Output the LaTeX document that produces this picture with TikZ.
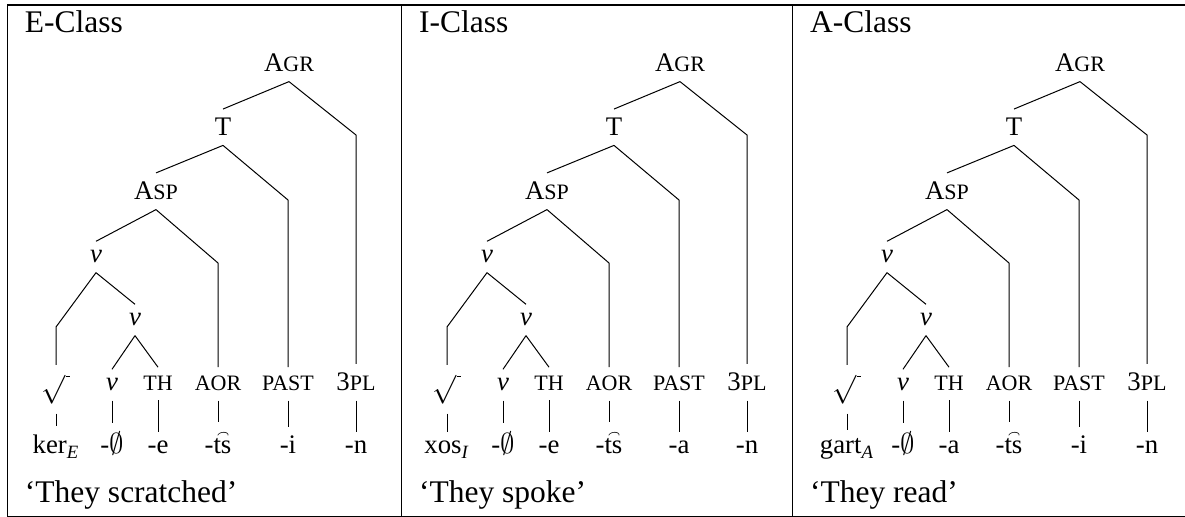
\documentclass[tikz,border=0pt]{standalone}
\usepackage{fontspec}
\setmainfont{Liberation Serif}
\usetikzlibrary{positioning}

\newcommand\smc[1]{{\fontsize{11}{12}\selectfont #1}}

\begin{document}
\begin{tikzpicture}[
            x=0.5pt, y=-0.5pt,
            cat/.style={anchor=base, inner sep=4.5pt, font=\fontsize{13.4}{16}\selectfont},
            heading/.style={anchor=base west, inner sep=0pt, font=\fontsize{15.75}{18}\selectfont},
            branch/.style={line width=0.5pt},
            rule/.style={line width=0.6pt}
        ]
            \useasboundingbox (0,0) rectangle (1185,517);

            % Table rules
            \draw[rule] (1185,5) -- (7.5,5) -- (7.5,516.5) -- (1185,516.5);
            \draw[rule] (401.7,5) -- (401.7,516.5);
            \draw[rule] (792.7,5) -- (792.7,516.5);

            \foreach \dx/\xl/\cls/\stem/\subs/\thv/\tv/\gloss/\p in
                {0/7.5/E/ker/E/e/i/They scratched/e,
                 391/401.7/I/xos/I/e/a/They spoke/i,
                 791/792.7/A/gart/A/a/i/They read/a}{

            % Column heading and translation
            \node[heading] (title\p) at (\xl+17,33) {\cls-Class};
            \node[heading] (gloss\p) at (\xl+17,503) {`\gloss'};

            \begin{scope}[shift={(\dx,0)}]
            % Projections
            \node[cat] (agr\p) at (289,72) {A\smc{GR}};
            \node[cat] (t\p) at (223,136) {T};
            \node[cat] (asp\p) at (156,200) {A\smc{SP}};
            \node[cat] (vu\p) at (96,263) {\textit{v}};
            \node[cat] (vd\p) at (135,326) {\textit{v}};

            % Terminals
            \node[cat] (root\p) at (56,391) {$\sqrt{\,}$};
            \node[cat] (vl\p) at (112,391) {\textit{v}};
            \node[cat] (th\p) at (158,391) {\smc{TH}};
            \node[cat] (aor\p) at (218,391) {\smc{AOR}};
            \node[cat] (past\p) at (288,391) {\smc{PAST}};
            \node[cat] (pl\p) at (356,391) {3\smc{PL}};

            % Exponents
            \node[cat] (stem\p) at (56,454) {\stem\textsubscript{\textit{\subs}}};
            \node[cat] (fv\p) at (112,454) {-$\emptyset$};
            \node[cat] (fth\p) at (158,454) {-\thv};
            \node[cat] (faor\p) at (218,454) {-\t{ts}};
            \node[cat] (fpast\p) at (288,454) {-\tv};
            \node[cat] (fpl\p) at (356,454) {-n};

            % Bends of the right branches
            \coordinate (bagr\p) at (356,135);
            \coordinate (bt\p) at (288,200);
            \coordinate (basp\p) at (218,263);
            \coordinate (bvu\p) at (56,327);

            % Branches
            \draw[branch] (agr\p.south) -- (t\p.north);
            \draw[branch] (agr\p.south) -- (bagr\p) -- (pl\p.north);
            \draw[branch] (t\p.south) -- (asp\p.north);
            \draw[branch] (t\p.south) -- (bt\p) -- (past\p.north);
            \draw[branch] (asp\p.south) -- (vu\p.north);
            \draw[branch] (asp\p.south) -- (basp\p) -- (aor\p.north);
            \draw[branch] (vu\p.south) -- (bvu\p) -- (root\p.north);
            \draw[branch] (vu\p.south) -- (vd\p.north);
            \draw[branch] (vd\p.south) -- (vl\p.north);
            \draw[branch] (vd\p.south) -- (th\p.north);

            % Terminals to exponents
            \draw[branch] (root\p) -- (stem\p);
            \draw[branch] (vl\p) -- (fv\p);
            \draw[branch] (th\p) -- (fth\p);
            \draw[branch] (aor\p) -- (faor\p);
            \draw[branch] (past\p) -- (fpast\p);
            \draw[branch] (pl\p) -- (fpl\p);
            \end{scope}
            }

        \end{tikzpicture}
\end{document}
